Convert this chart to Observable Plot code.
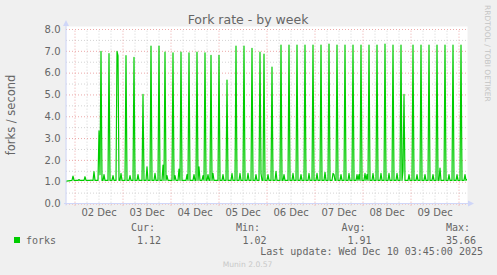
<!DOCTYPE html>
<html>
<head>
<meta charset="utf-8">
<script src="https://cdn.jsdelivr.net/npm/d3@7"></script>
<script src="https://cdn.jsdelivr.net/npm/@observablehq/plot@0.6"></script>
<style>
  html, body { margin: 0; padding: 0; background: #f0f0f0; }
  #chart { width: 497px; height: 275px; }
</style>
</head>
<body>
<div id="chart"></div>
<script>
// ---- data (hours relative to 02 Dec 2025 00:00) ----
const title = "Fork rate - by week";
const yLabel = "forks / second";
const sideLabel = "RRDTOOL / TOBI OETIKER";
const startHour = -4.25;   // 01 Dec 19:45
const endHour = 195.75;    // 10 Dec 03:45
const baseLevel = 1.08;
const startValue = 1.05;
const endValue = 1.12;

const spikeHours = [12.0, 13.0, 17.0, 21.0, 21.5, 25.5, 29.5, 34.0, 38.0, 42.0, 45.0, 49.0, 53.0, 57.0, 61.0, 65.0, 68.0, 72.0,
  76.0, 80.5, 84.5, 88.5, 92.5, 94.5, 98.5, 103.0, 107.0, 111.0, 115.0, 119.0, 123.0, 127.0, 131.0, 135.0, 139.0, 143.0,
  147.0, 151.0, 155.0, 159.0, 163.0, 164.5, 169.0, 173.0, 177.0, 181.0, 185.0, 189.0, 193.0];
const spikeValues = [3.35, 7.0, 6.9, 7.0, 6.8, 6.8, 6.72, 5.03, 7.24, 7.24, 6.96, 6.93, 6.96, 6.93, 6.96, 6.93, 6.82, 6.82,
  5.68, 7.24, 7.24, 7.14, 6.96, 6.87, 6.28, 7.29, 7.29, 7.29, 7.29, 7.29, 7.29, 7.33, 7.29, 7.29, 7.29, 7.29,
  7.29, 7.29, 7.33, 7.29, 7.29, 5.03, 7.29, 7.29, 7.29, 7.29, 7.29, 7.29, 7.29];

const bumpHours = [-1.0, 2.0, 5.0, 8.0, 9.5, 12.5, 14.5, 19.0, 23.0, 27.5, 31.5, 36.0, 40.0, 44.0, 46.0, 50.0, 52.0, 56.0,
  59.5, 62.0, 64.0, 66.5, 69.0, 74.0, 78.5, 82.5, 86.5, 90.5, 93.0, 96.5, 100.5, 104.5, 109.0, 113.0, 117.0, 121.0,
  125.0, 129.0, 129.5, 133.0, 137.0, 141.0, 142.0, 145.0, 146.0, 149.0, 153.0, 157.0, 161.0, 164.0, 167.0, 171.0,
  175.0, 179.0, 182.5, 187.0, 191.0, 195.0];
const bumpValues = [1.28, 1.12, 1.25, 1.1, 1.48, 1.35, 1.35, 1.3, 1.4, 1.3, 1.35, 1.7, 1.4, 1.78, 1.3, 1.3, 1.6, 1.35,
  1.35, 1.7, 1.3, 1.35, 1.4, 1.35, 1.4, 1.4, 1.4, 1.35, 1.4, 1.35, 1.5, 1.35, 1.4, 1.35, 1.4, 1.4,
  1.45, 1.4, 1.35, 1.35, 1.4, 1.35, 1.35, 1.4, 1.35, 1.4, 1.4, 1.4, 1.4, 1.5, 1.35, 1.35,
  1.35, 1.35, 1.65, 1.35, 1.35, 1.35];

const dayLabelHours = [12, 36, 60, 84, 108, 132, 156, 180];
const yTicks = [0, 1, 2, 3, 4, 5, 6, 7, 8];

const legendName = "forks";
const legendHeads = ["Cur:", "Min:", "Avg:", "Max:"];
const legendValues = ["1.12", "1.02", "1.91", "35.66"];
const lastUpdate = "Last update: Wed Dec 10 03:45:00 2025";
const footer = "Munin 2.0.57";

// ---- build ----
const base = Date.UTC(2025, 11, 2);
const T = h => new Date(base + h * 3600e3);

const pts = new Map();
function put(h, v) { pts.set(h, Math.max(pts.get(h) ?? -Infinity, v)); }
put(startHour, startValue);
put(endHour, endValue);
spikeHours.forEach(h => { put(h - 0.5, baseLevel); put(h + 0.5, baseLevel); });
bumpHours.forEach(h => { put(h - 0.5, baseLevel); put(h + 0.5, baseLevel); });
const readings = new Map();
spikeHours.forEach((h, i) => readings.set(h, spikeValues[i]));
bumpHours.forEach((h, i) => readings.set(h, Math.max(readings.get(h) ?? 0, bumpValues[i])));
for (const [h, v] of readings) pts.set(h, v);
const series = Array.from(pts, ([h, v]) => ({t: T(h), v}))
  .filter(d => d.t >= T(startHour) && d.t <= T(endHour))
  .sort((a, b) => a.t - b.t);

const minorY = d3.range(0.5, 8, 1);
const majorY = yTicks;
const minorX = d3.range(-0, 196, 6).filter(h => h % 24 !== 0).map(T);
const majorX = d3.range(0, 196, 24).map(T);

const minorColor = "#d4d4d4";
const majorColor = "#eca8a8";

const chart = Plot.plot({
  width: 497,
  height: 275,
  marginLeft: 66,
  marginRight: 31,
  marginTop: 29,
  marginBottom: 71.5,
  style: {background: "transparent", fontFamily: "DejaVu Sans", fontSize: "10px", color: "#666"},
  x: {type: "utc", domain: [T(startHour), T(endHour)], ticks: dayLabelHours.map(T),
      tickFormat: d3.utcFormat("%d %b"), tickSize: 0, tickPadding: 5, label: null},
  y: {domain: [0, 8], ticks: yTicks, tickFormat: d3.format(".1f"), tickSize: 0, tickPadding: 6, label: null},
  marks: [
    Plot.frame({fill: "white", stroke: "none", insetTop: -3, insetRight: -1}),
    Plot.ruleY(minorY, {y: d => d, stroke: minorColor, strokeDasharray: "1,2"}),
    Plot.ruleX(minorX, {x: d => d, y1: -0.1, y2: 8, stroke: minorColor, strokeDasharray: "1,2"}),
    Plot.ruleY(majorY, {y: d => d, stroke: majorColor, strokeDasharray: "1,2"}),
    Plot.ruleX(majorX, {x: d => d, y1: -0.1, y2: 8, stroke: majorColor, strokeDasharray: "1,2"}),
    Plot.line(series, {x: "t", y: "v", stroke: "#00cc00", strokeWidth: 1.2})
  ]
});

document.getElementById("chart").appendChild(chart);

// decorations
const svg = d3.select(chart);
const xs = chart.scale("x"), ys = chart.scale("y");
const x0 = xs.range[0], x1 = xs.range[1];
const y0 = ys.apply(0), y8 = ys.apply(8);
const axisColor = "#cfd6f8";
const g = svg.append("g").attr("text-anchor", "start");
g.append("line").attr("x1", x0 - 2).attr("x2", x1 + 2).attr("y1", y0).attr("y2", y0).attr("stroke", axisColor);
g.append("path").attr("d", `M${x1 + 2},${y0 - 3}L${x1 + 8},${y0}L${x1 + 2},${y0 + 3}Z`).attr("fill", axisColor);
g.append("line").attr("x1", x0).attr("x2", x0).attr("y1", y0 + 2).attr("y2", y8 - 3).attr("stroke", axisColor);
g.append("path").attr("d", `M${x0 - 3},${y8 - 3}L${x0},${y8 - 9}L${x0 + 3},${y8 - 3}Z`).attr("fill", axisColor);

const sans = "DejaVu Sans";
const mono = "DejaVu Sans Mono";
function txt(s, x, y, opts = {}) {
  const t = g.append("text").text(s).attr("x", x).attr("y", y)
    .attr("text-anchor", opts.anchor || "start")
    .attr("font-family", opts.family || mono)
    .attr("font-size", opts.size || 10)
    .attr("fill", opts.fill || "#666");
  if (opts.transform) t.attr("transform", opts.transform);
  return t;
}
txt(title, 248, 24, {anchor: "middle", family: sans, size: 12.5});
txt(yLabel, 0, 0, {anchor: "middle", family: sans, size: 11.5, transform: "translate(15,115) rotate(-90)"});
txt(sideLabel, 0, 0, {anchor: "start", family: sans, size: 7.5, fill: "#c4c4c4", transform: "translate(485,5) rotate(90)"});

const headX = [131, 236, 341.5, 446];
const valX = [137, 242.5, 347.5, 446];
legendHeads.forEach((s, i) => txt(s, headX[i], 231));
legendValues.forEach((s, i) => txt(s, valX[i], 243.5));
g.append("rect").attr("x", 14).attr("y", 237).attr("width", 6).attr("height", 6).attr("fill", "#00cc00");
txt(legendName, 26, 243.5);
txt(lastUpdate, 483, 255, {anchor: "end"});
txt(footer, 247.5, 267, {anchor: "middle", family: sans, size: 7.6, fill: "#c8c8c8"});
</script>
</body>
</html>
